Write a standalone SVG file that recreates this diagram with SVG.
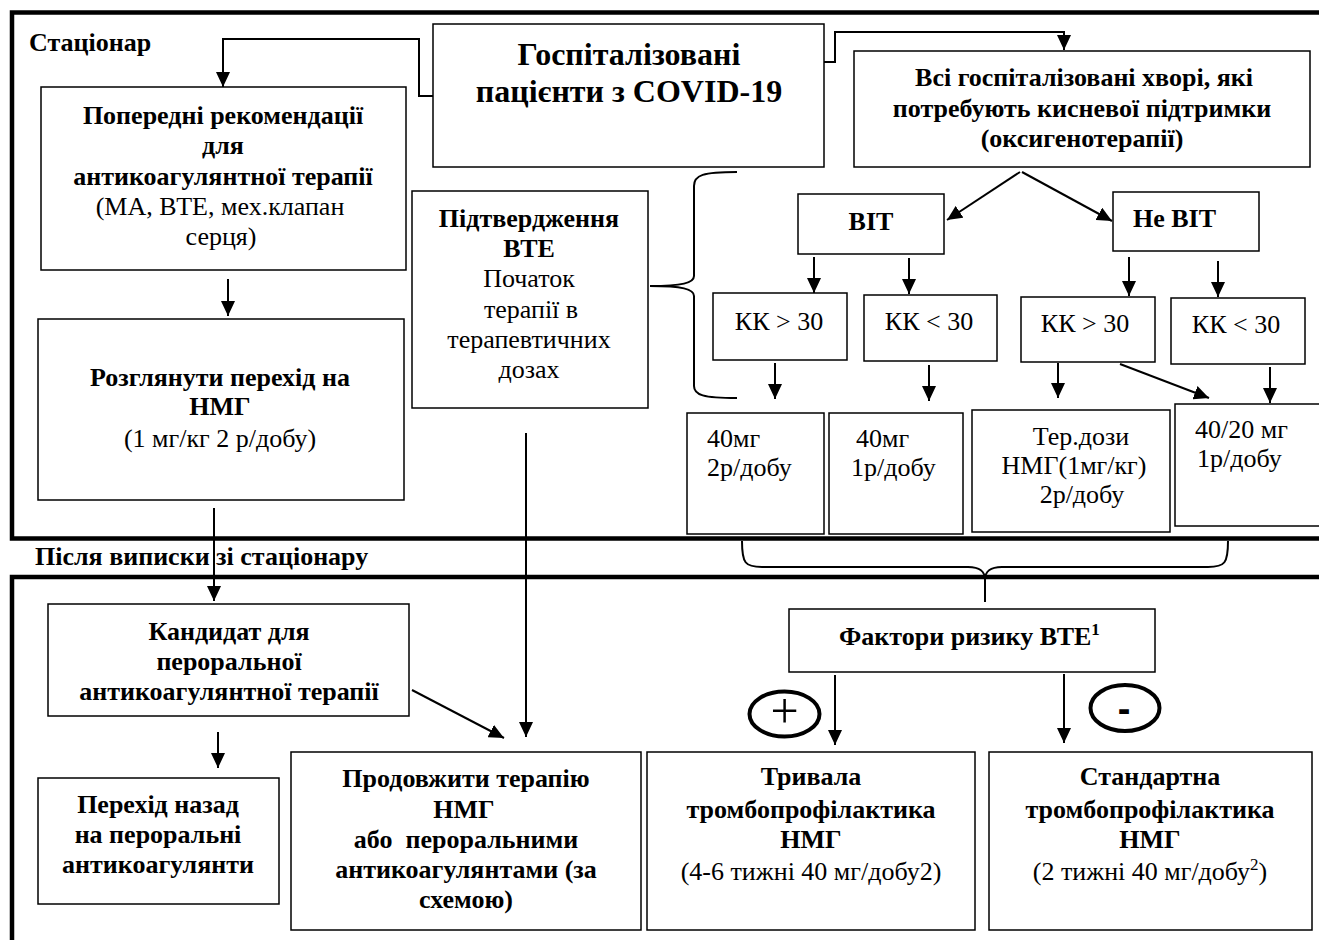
<svg xmlns="http://www.w3.org/2000/svg" width="1319" height="940" viewBox="0 0 1319 940">
<defs>
<style>
text{font-family:"Liberation Serif","Times New Roman",serif;font-size:26px;fill:#000}
.b{font-weight:bold}
.c{text-anchor:middle}
.box{fill:#fff;stroke:#000;stroke-width:1.5}
.frame{fill:none;stroke:#000;stroke-width:4.5}
.conn{fill:none;stroke:#000;stroke-width:2}
.brace{fill:none;stroke:#000;stroke-width:2}
.sign{font-family:"Liberation Sans",Arial,sans-serif}
.ring{fill:none;stroke:#000;stroke-width:4}
</style>
<marker id="ah" markerUnits="userSpaceOnUse" markerWidth="15" markerHeight="14" refX="15" refY="7" orient="auto">
<path d="M0,0 L15,7 L0,14 Z" fill="#000"/>
</marker>
</defs>
<rect width="1319" height="940" fill="#fff"/>
<g id="frames">
<rect class="frame" x="12" y="12.5" width="1330" height="526"/>
<rect class="frame" x="12" y="577" width="1330" height="400"/>
<text class="b" x="29" y="51">Стаціонар</text>
<text class="b" x="35" y="565">Після виписки зі стаціонару</text>
</g>
<g id="connectors">
<path class="conn" d="M433,96 H419 V39 H223 V87" marker-end="url(#ah)"/>
<path class="conn" d="M824,62 H835 V32 H1064 V50" marker-end="url(#ah)"/>
<path class="conn" d="M1020,172 L947,220" marker-end="url(#ah)"/>
<path class="conn" d="M1022,172 L1112,221" marker-end="url(#ah)"/>
<path class="conn" d="M814,257 V293" marker-end="url(#ah)"/>
<path class="conn" d="M909,258 V294" marker-end="url(#ah)"/>
<path class="conn" d="M1129,257 V296" marker-end="url(#ah)"/>
<path class="conn" d="M1218,261 V297" marker-end="url(#ah)"/>
<path class="conn" d="M775,363 V399" marker-end="url(#ah)"/>
<path class="conn" d="M929,365 V401" marker-end="url(#ah)"/>
<path class="conn" d="M1058,363 V398" marker-end="url(#ah)"/>
<path class="conn" d="M1120,364 L1209,398" marker-end="url(#ah)"/>
<path class="conn" d="M1270,367 V403" marker-end="url(#ah)"/>
<path class="conn" d="M228,279 V316" marker-end="url(#ah)"/>
<path class="conn" d="M214,508 V601" marker-end="url(#ah)"/>
<path class="conn" d="M526,433 V737" marker-end="url(#ah)"/>
<path class="conn" d="M412,690 L504,738" marker-end="url(#ah)"/>
<path class="conn" d="M218,732 V768" marker-end="url(#ah)"/>
<path class="conn" d="M835,675 V745" marker-end="url(#ah)"/>
<path class="conn" d="M1064,674 V743" marker-end="url(#ah)"/>
<path class="brace" d="M737,172 C703,172 694,175 694,186 L694,276 C694,283 682,286 650,286 C682,286 694,289 694,296 L694,386 C694,395 703,398 737,398"/>
<path class="brace" d="M742,541 C742,563 745,567 762,567 L968,567 C980,567 985,571 985,580 C985,571 990,567 1002,567 L1208,567 C1225,567 1228,563 1228,541"/>
<path class="conn" d="M985,578 V602"/>
</g>
<g id="n-hosp">
<rect class="box" x="433" y="24" width="391" height="143"/>
<text class="b c" x="629" y="65" style="font-size:32px">Госпіталізовані</text>
<text class="b c" x="629" y="102" style="font-size:32px">пацієнти з COVID-19</text>
</g>
<g id="n-oxygen">
<rect class="box" x="854" y="51" width="456" height="116"/>
<text class="b c" x="1084" y="86">Всі госпіталізовані хворі, які</text>
<text class="b c" x="1082" y="117">потребують кисневої підтримки</text>
<text class="b c" x="1082" y="147">(оксигенотерапії)</text>
</g>
<g id="n-prev">
<rect class="box" x="41" y="87" width="365" height="183"/>
<text class="b c" x="223" y="124">Попередні рекомендації</text>
<text class="b c" x="223" y="154">для</text>
<text class="b c" x="223" y="185">антикоагулянтної терапії</text>
<text class="c" x="220" y="215">(МА, ВТЕ, мех.клапан</text>
<text class="c" x="221" y="245">серця)</text>
</g>
<g id="n-confirm">
<rect class="box" x="412" y="191" width="236" height="217"/>
<text class="b c" x="529" y="227">Підтвердження</text>
<text class="b c" x="529" y="257">ВТЕ</text>
<text class="c" x="529" y="287">Початок</text>
<text class="c" x="531" y="318">терапії в</text>
<text class="c" x="529" y="348">терапевтичних</text>
<text class="c" x="529" y="378">дозах</text>
</g>
<g id="n-switch">
<rect class="box" x="38" y="319" width="366" height="181"/>
<text class="b c" x="220" y="386">Розглянути перехід на</text>
<text class="b c" x="220" y="415">НМГ</text>
<text class="c" x="220" y="447">(1 мг/кг 2 р/добу)</text>
</g>
<g id="n-icu">
<rect class="box" x="798" y="194" width="146" height="60"/>
<text class="b c" x="871" y="230">ВІТ</text>
</g>
<g id="n-nonicu">
<rect class="box" x="1113" y="192" width="146" height="59"/>
<text class="b" x="1133" y="227">Не ВІТ</text>
</g>
<g id="n-kk1">
<rect class="box" x="713" y="293" width="134" height="67"/>
<text class="c" x="779" y="330">КК &gt; 30</text>
</g>
<g id="n-kk2">
<rect class="box" x="864" y="295" width="133" height="66"/>
<text class="c" x="929" y="330">КК &lt; 30</text>
</g>
<g id="n-kk3">
<rect class="box" x="1021" y="297" width="134" height="65"/>
<text class="c" x="1085" y="332">КК &gt; 30</text>
</g>
<g id="n-kk4">
<rect class="box" x="1171" y="298" width="134" height="66"/>
<text class="c" x="1236" y="333">КК &lt; 30</text>
</g>
<g id="n-d1">
<rect class="box" x="687" y="413" width="137" height="121"/>
<text x="707" y="447">40мг</text>
<text x="707" y="476">2р/добу</text>
</g>
<g id="n-d2">
<rect class="box" x="829" y="413" width="134" height="121"/>
<text x="856" y="447">40мг</text>
<text x="851" y="476">1р/добу</text>
</g>
<g id="n-d3">
<rect class="box" x="972" y="410" width="198" height="122"/>
<text class="c" x="1081" y="445">Тер.дози</text>
<text class="c" x="1074" y="474">НМГ(1мг/кг)</text>
<text class="c" x="1082" y="503">2р/добу</text>
</g>
<g id="n-d4">
<rect class="box" x="1175" y="404" width="150" height="122"/>
<text x="1195" y="438">40/20 мг</text>
<text x="1197" y="467">1р/добу</text>
</g>
<g id="n-risk">
<rect class="box" x="789" y="609" width="366" height="63"/>
<text class="b" x="839" y="645">Фактори ризику ВТЕ<tspan style="font-size:17px" dy="-10">1</tspan></text>
</g>
<g id="n-plus">
<ellipse class="ring" cx="784.5" cy="714" rx="35" ry="22.5"/>
<text class="c" x="784.5" y="728" style="font-size:50px">+</text>
</g>
<g id="n-minus">
<ellipse class="ring" cx="1125" cy="708" rx="34.5" ry="23"/>
<text class="sign b c" x="1124" y="722" style="font-size:38px">-</text>
</g>
<g id="n-cand">
<rect class="box" x="48" y="604" width="361" height="112"/>
<text class="b c" x="229" y="640">Кандидат для</text>
<text class="b c" x="229" y="670">пероральної</text>
<text class="b c" x="229" y="700">антикоагулянтної терапії</text>
</g>
<g id="n-back">
<rect class="box" x="38" y="778" width="241" height="126"/>
<text class="b c" x="158" y="813">Перехід назад</text>
<text class="b c" x="158" y="843">на пероральні</text>
<text class="b c" x="158" y="873">антикоагулянти</text>
</g>
<g id="n-continue">
<rect class="box" x="291" y="752" width="350" height="178"/>
<text class="b c" x="466" y="787">Продовжити терапію</text>
<text class="b c" x="464" y="818">НМГ</text>
<text class="b c" x="466" y="848" xml:space="preserve">або  пероральними</text>
<text class="b c" x="466" y="878">антикоагулянтами (за</text>
<text class="b c" x="466" y="908">схемою)</text>
</g>
<g id="n-long">
<rect class="box" x="647" y="752" width="328" height="178"/>
<text class="b c" x="811" y="785">Тривала</text>
<text class="b c" x="811" y="818">тромбопрофілактика</text>
<text class="b c" x="811" y="848">НМГ</text>
<text class="c" x="811" y="880">(4-6 тижні 40 мг/добу2)</text>
</g>
<g id="n-std">
<rect class="box" x="989" y="752" width="323" height="178"/>
<text class="b c" x="1150" y="785">Стандартна</text>
<text class="b c" x="1150" y="818">тромбопрофілактика</text>
<text class="b c" x="1150" y="848">НМГ</text>
<text class="c" x="1150" y="880">(2 тижні 40 мг/добу<tspan style="font-size:17px" dy="-10">2</tspan><tspan dy="10">)</tspan></text>
</g>
</svg>
